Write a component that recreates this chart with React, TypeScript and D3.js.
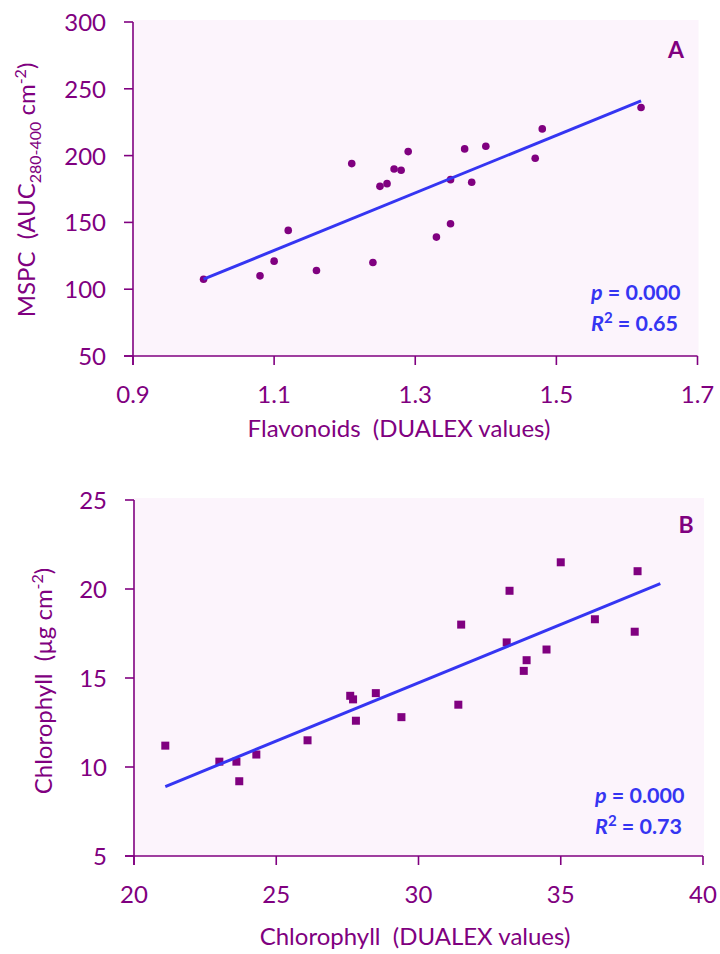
import React from "react";
import * as d3 from "d3";

// ---------- Data: panel A ----------
const flavX = [1.0, 1.08, 1.10, 1.12, 1.16, 1.21, 1.24, 1.25, 1.26, 1.27, 1.28, 1.29, 1.33, 1.35, 1.35, 1.37, 1.38, 1.40, 1.47, 1.48, 1.62];
const mspcY = [107.5, 110, 121, 144, 114, 194, 120, 177, 179, 190, 189, 203, 139, 149, 182, 205, 180, 207, 198, 220, 236];
const trendAX = [1.0, 1.62];
const trendAY = [107.5, 241];
const xTicksA = [0.9, 1.1, 1.3, 1.5, 1.7];
const yTicksA = [50, 100, 150, 200, 250, 300];

// ---------- Data: panel B ----------
const dualexChl = [21.1, 23.0, 23.6, 23.7, 24.3, 26.1, 27.6, 27.7, 27.8, 28.5, 29.4, 31.4, 31.5, 33.1, 33.2, 33.7, 33.8, 34.5, 35.0, 36.2, 37.6, 37.7];
const chlContent = [11.2, 10.3, 10.3, 9.2, 10.7, 11.5, 14.0, 13.8, 12.6, 14.15, 12.8, 13.5, 18.0, 17.0, 19.9, 15.4, 16.0, 16.6, 21.5, 18.3, 17.6, 21.0];
const trendBX = [21.1, 38.5];
const trendBY = [8.9, 20.3];
const xTicksB = [20, 25, 30, 35, 40];
const yTicksB = [5, 10, 15, 20, 25];

const PURPLE = "#800080";
const BLUE = "#3535F2";
const BG = "#FCF4FC";
const FONT = "Lato, 'Open Sans', sans-serif";

type PanelProps = {
  xs: number[];
  ys: number[];
  tx: number[];
  ty: number[];
  xDomain: [number, number];
  yDomain: [number, number];
  xRange: [number, number];
  yRange: [number, number];
  xTicks: number[];
  yTicks: number[];
  xFmt: (v: number) => string;
  marker: "circle" | "square";
  letter: string;
  r2: string;
  statsX: number;
  pY: number;
  letterX: number;
  letterY: number;
  xTitle: string;
  xTitleX: number;
  xTitleY: number;
  yTitle: React.ReactNode;
  yTitleX: number;
  yTitleY: number;
};

function Panel(p: PanelProps) {
  const x = d3.scaleLinear().domain(p.xDomain).range(p.xRange);
  const y = d3.scaleLinear().domain(p.yDomain).range(p.yRange);
  const [x0, x1] = p.xRange;
  const [yb, yt] = p.yRange;
  const line = d3
    .line<number>()
    .x((d) => x(p.tx[d]))
    .y((d) => y(p.ty[d]));
  return (
    <g>
      <rect x={x0} y={yt - 2} width={x1 - x0 + 1} height={yb - yt + 2} fill={BG} />
      {/* axes */}
      <line x1={x0} x2={x0} y1={yt} y2={yb + 9} stroke={PURPLE} strokeWidth={1.6} />
      <line x1={x0 - 9} x2={x1} y1={yb} y2={yb} stroke={PURPLE} strokeWidth={1.6} />
      {p.yTicks.map((t) => (
        <g key={"y" + t}>
          <line x1={x0 - 9} x2={x0} y1={y(t)} y2={y(t)} stroke={PURPLE} strokeWidth={1.6} />
          <text x={x0 - 27} y={y(t) + 9} textAnchor="end" fontSize={24} fill={PURPLE} fontFamily={FONT}>
            {t}
          </text>
        </g>
      ))}
      {p.xTicks.map((t) => (
        <g key={"x" + t}>
          <line x1={x(t)} x2={x(t)} y1={yb} y2={yb + 9} stroke={PURPLE} strokeWidth={1.6} />
          <text x={x(t)} y={yb + 47} textAnchor="middle" fontSize={24} fill={PURPLE} fontFamily={FONT}>
            {p.xFmt(t)}
          </text>
        </g>
      ))}
      {/* points */}
      {p.xs.map((v, i) =>
        p.marker === "circle" ? (
          <circle key={i} cx={x(v)} cy={y(p.ys[i])} r={3.8} fill={PURPLE} />
        ) : (
          <rect key={i} x={x(v) - 4} y={y(p.ys[i]) - 4} width={8} height={8} fill={PURPLE} />
        )
      )}
      {/* trend line */}
      <path d={line([0, 1]) || ""} stroke={BLUE} strokeWidth={3} fill="none" />
      {/* annotations */}
      <text x={p.letterX} y={p.letterY} textAnchor="middle" fontSize={23} fontWeight="bold" fill={PURPLE} fontFamily={FONT}>
        {p.letter}
      </text>
      <text x={p.statsX} y={p.pY} fontSize={21.5} fontWeight="bold" fill={BLUE} fontFamily={FONT}>
        <tspan fontStyle="italic">p</tspan> = 0.000
      </text>
      <text x={p.statsX} y={p.pY + 31} fontSize={21.5} fontWeight="bold" fill={BLUE} fontFamily={FONT}>
        <tspan fontStyle="italic">R</tspan>
        <tspan fontSize={15} dy={-8}>2</tspan>
        <tspan dy={8}> = {p.r2}</tspan>
      </text>
      <text x={p.xTitleX} y={p.xTitleY} textAnchor="middle" fontSize={24} fill={PURPLE} fontFamily={FONT}>
        {p.xTitle}
      </text>
      <text
        transform={`translate(${p.yTitleX},${p.yTitleY}) rotate(-90)`}
        textAnchor="middle"
        fontSize={24}
        fill={PURPLE}
        fontFamily={FONT}
      >
        {p.yTitle}
      </text>
    </g>
  );
}

export default function App() {
  return (
    <svg width={720} height={954} style={{ position: "absolute", left: 0, top: 0, background: "#fff" }}>
      <Panel
        xs={flavX}
        ys={mspcY}
        tx={trendAX}
        ty={trendAY}
        xDomain={[0.9, 1.7]}
        yDomain={[50, 300]}
        xRange={[133, 697.5]}
        yRange={[356, 22]}
        xTicks={xTicksA}
        yTicks={yTicksA}
        xFmt={d3.format(".1f")}
        marker="circle"
        letter="A"
        r2="0.65"
        statsX={591}
        pY={300}
        letterX={676}
        letterY={58}
        xTitle={"Flavonoids\u00a0 (DUALEX values)"}
        xTitleX={399}
        xTitleY={437}
        yTitle={
          <>
            MSPC{"\u00a0 "}(AUC
            <tspan fontSize={16} dy={6}>280-400</tspan>
            <tspan dy={-6}> cm</tspan>
            <tspan fontSize={16} dy={-9}>-2</tspan>
            <tspan dy={9}>)</tspan>
          </>
        }
        yTitleX={35}
        yTitleY={190}
      />
      <Panel
        xs={dualexChl}
        ys={chlContent}
        tx={trendBX}
        ty={trendBY}
        xDomain={[20, 40]}
        yDomain={[5, 25]}
        xRange={[134, 703]}
        yRange={[856, 500]}
        xTicks={xTicksB}
        yTicks={yTicksB}
        xFmt={d3.format("d")}
        marker="square"
        letter="B"
        r2="0.73"
        statsX={595}
        pY={803}
        letterX={686}
        letterY={533}
        xTitle={"Chlorophyll\u00a0 (DUALEX values)"}
        xTitleX={415}
        xTitleY={945}
        yTitle={
          <>
            Chlorophyll{"\u00a0 "}(µg cm
            <tspan fontSize={16} dy={-9}>-2</tspan>
            <tspan dy={9}>)</tspan>
          </>
        }
        yTitleX={52}
        yTitleY={681}
      />
    </svg>
  );
}
